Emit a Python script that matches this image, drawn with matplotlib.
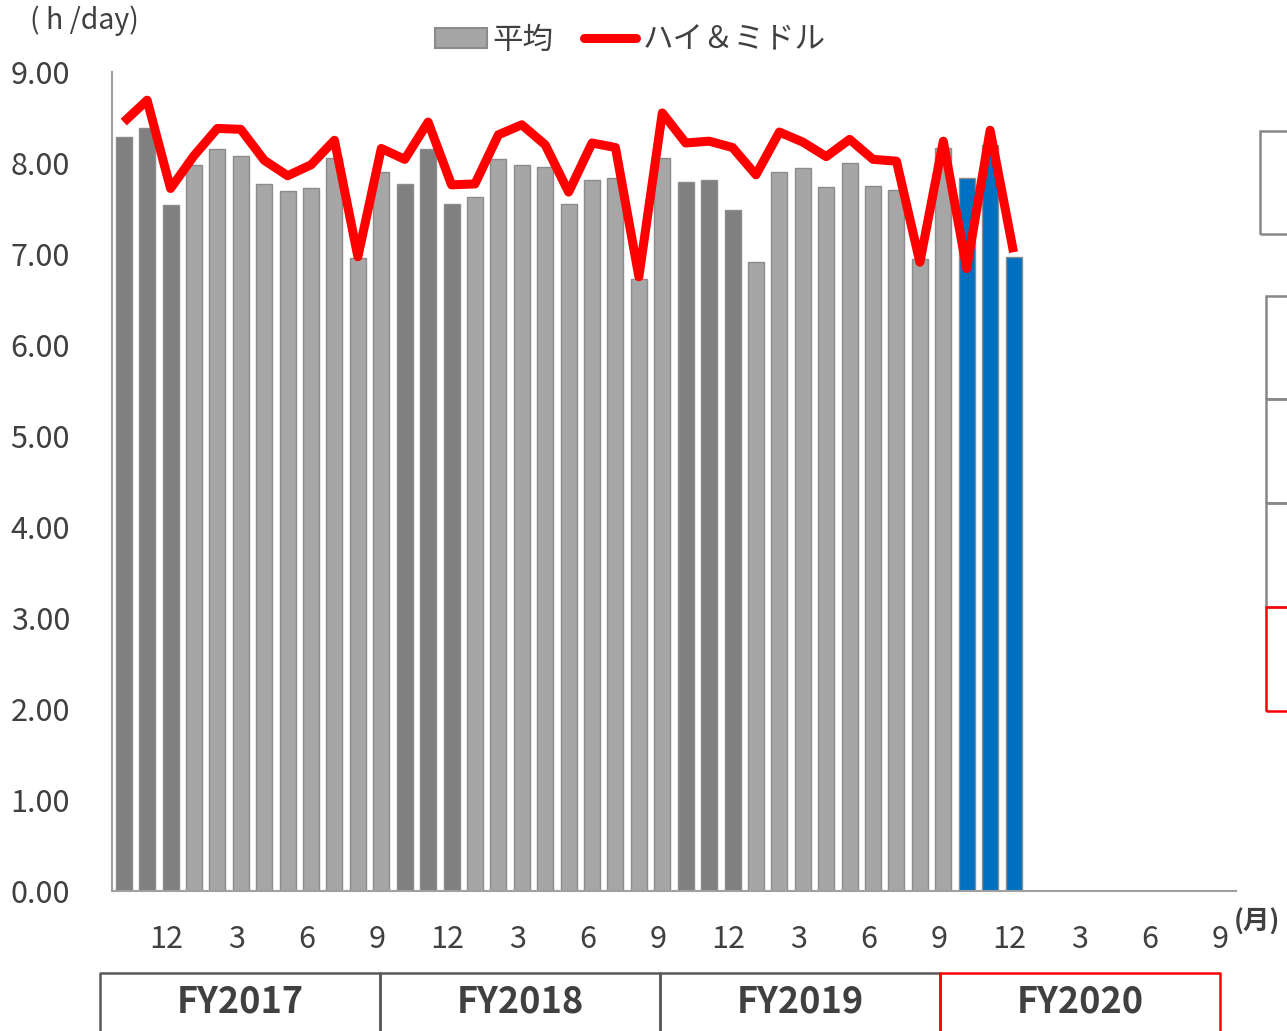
import matplotlib
matplotlib.use("Agg")
import matplotlib.pyplot as plt
import matplotlib.transforms as mtransforms
from matplotlib.patches import Patch, Rectangle
from matplotlib.lines import Line2D
import numpy as np

plt.rcParams['font.family'] = ['Noto Sans CJK JP', 'DejaVu Sans']

# Monthly averages (h/day), Oct 2017 - Dec 2020
avg_hours = [8.29, 8.38, 7.54, 7.98, 8.15, 8.08, 7.77, 7.69, 7.73, 8.05, 6.96, 7.90,
             7.77, 8.15, 7.55, 7.63, 8.04, 7.98, 7.96, 7.55, 7.81, 7.84, 6.73, 8.05,
             7.79, 7.81, 7.48, 6.91, 7.90, 7.94, 7.74, 8.00, 7.75, 7.70, 6.94, 8.17,
             7.84, 8.20, 6.97]
# High & middle users
high_mid_hours = [8.45, 8.69, 7.72, 8.08, 8.38, 8.37, 8.03, 7.86, 7.98, 8.25, 6.97, 8.16,
                  8.04, 8.45, 7.76, 7.77, 8.31, 8.42, 8.20, 7.68, 8.22, 8.17, 6.75, 8.55,
                  8.22, 8.24, 8.17, 7.87, 8.34, 8.23, 8.07, 8.26, 8.04, 8.02, 6.91, 8.24,
                  6.84, 8.36, 7.02]
fiscal_years = ["FY2017", "FY2018", "FY2019", "FY2020"]
yticks = [0, 1, 2, 3, 4, 5, 6, 7, 8, 9]

n_slots = 48  # Oct 2017 .. Sep 2021
start_year = 2017
months = [(9 + i) % 12 + 1 for i in range(n_slots)]
x = np.arange(len(avg_hours))

DARK = '#808080'
LIGHT = '#a6a6a6'
BLUE = '#0070c0'
TEXT = '#404040'

colors = []
for i in range(len(avg_hours)):
    year = start_year + (9 + i) // 12
    if months[i] >= 10 and year == 2020:
        colors.append(BLUE)
    elif months[i] >= 10:
        colors.append(DARK)
    else:
        colors.append(LIGHT)

fig = plt.figure(figsize=(12.87, 10.31), dpi=100)
ax = fig.add_axes([112 / 1287, 140 / 1031, 1124 / 1287, 819 / 1031])

ax.bar(x, avg_hours, width=0.68, color=colors, edgecolor='#8c8c8c', linewidth=1.0, zorder=2)
ax.plot(x, high_mid_hours, color='#ff0000', linewidth=6.5, solid_joinstyle='round',
        solid_capstyle='butt', zorder=3)

ax.set_xlim(-0.5, n_slots - 0.5)
ax.set_ylim(0, 9)
ax.set_yticks(yticks)
ax.set_yticklabels([f"{v:.2f}" for v in yticks], fontsize=22, color=TEXT)

tick_pos = [i for i in range(n_slots) if months[i] in (12, 3, 6, 9)]
ax.set_xticks(tick_pos)
ax.set_xticklabels([str(months[i]) for i in tick_pos], fontsize=22, color=TEXT)
ax.tick_params(axis='both', length=0)
ax.tick_params(axis='x', pad=24)
ax.tick_params(axis='y', pad=73)
for lab in ax.get_yticklabels():
    lab.set_horizontalalignment('left')
shift = mtransforms.ScaledTranslation(-4 / 100, 0, fig.dpi_scale_trans)
for lab in ax.get_xticklabels():
    lab.set_transform(lab.get_transform() + shift)

for side in ('top', 'right'):
    ax.spines[side].set_visible(False)
for side in ('left', 'bottom'):
    ax.spines[side].set_color('#a0a0a0')
    ax.spines[side].set_linewidth(1.5)

fig.text(30 / 1287, 1 - 21 / 1031, "( h /day)", fontsize=20.5, color=TEXT, va='center', ha='left')
fig.text(1234 / 1287, 1 - 922 / 1031, "(月)", fontsize=19, color=TEXT, va='center',
         ha='left', fontweight='bold')

# legend
handles = [Patch(facecolor=LIGHT, edgecolor='#8c8c8c', linewidth=1.5),
           Line2D([0], [0], color='#ff0000', linewidth=6.5, solid_capstyle='round')]
fig.legend(handles, ["平均", "ハイ＆ミドル"], loc='center', bbox_to_anchor=(630 / 1287, 1 - 40 / 1031),
           ncol=2, frameon=False, fontsize=22, handlelength=1.7, handleheight=0.65,
           handletextpad=0.2, columnspacing=1.0, labelcolor=TEXT)

# fiscal year boxes below the axis
trans = mtransforms.blended_transform_factory(ax.transData, fig.transFigure)
y_top = 1 - 973 / 1031
for k, fy in enumerate(fiscal_years):
    left = -1.01 + 11.96 * k
    right = left + 11.96
    col = '#ff0000' if fy == "FY2020" else '#595959'
    ax.plot([left, left, right, right], [-0.1, y_top, y_top, -0.1], color=col,
            linewidth=1.8, transform=trans, clip_on=False, zorder=4 if col != '#595959' else 3)
    ax.text((left + right) / 2, 1 - 1002 / 1031, fy, transform=trans, ha='center', va='center',
            fontsize=26, fontweight='bold', color=TEXT)

# cut-off panels on the right edge
def frag(x0, y0, y1, col):
    fig.patches.append(Rectangle((x0 / 1287, 1 - y1 / 1031), 0.2, (y1 - y0) / 1031,
                                 transform=fig.transFigure, fill=False, edgecolor=col,
                                 linewidth=1.8))

frag(1260, 131, 234, '#888888')
frag(1266, 296, 399, '#888888')
frag(1266, 399, 503, '#888888')
frag(1266, 503, 607, '#888888')
frag(1266, 607, 711, '#ff0000')

fig.savefig("out.png", dpi=100)
